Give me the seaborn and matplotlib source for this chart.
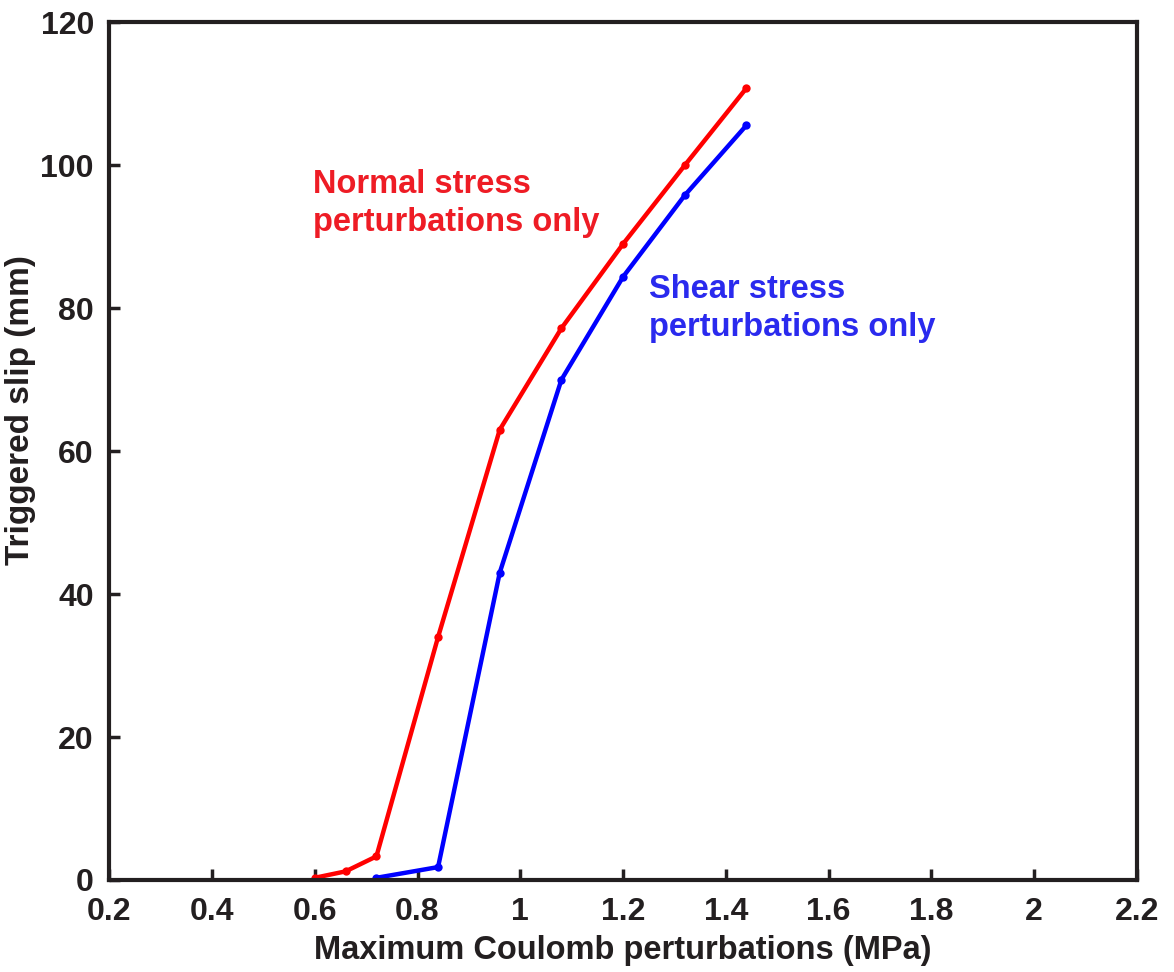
import numpy as np
import pandas as pd
import matplotlib
matplotlib.use("Agg")
import matplotlib.pyplot as plt
import seaborn as sns

normal_x = [0.60, 0.66, 0.72, 0.84, 0.96, 1.08, 1.20, 1.32, 1.44]
normal_y = [0.3, 1.2, 3.3, 34.0, 63.0, 77.2, 89.0, 100.0, 110.8]
shear_x = [0.72, 0.84, 0.96, 1.08, 1.20, 1.32, 1.44]
shear_y = [0.3, 1.8, 43.0, 70.0, 84.4, 95.8, 105.6]

x_ticks = [0.2, 0.4, 0.6, 0.8, 1.0, 1.2, 1.4, 1.6, 1.8, 2.0, 2.2]
x_tick_labels = ["0.2", "0.4", "0.6", "0.8", "1", "1.2", "1.4", "1.6", "1.8", "2", "2.2"]
y_ticks = [0, 20, 40, 60, 80, 100, 120]

df = pd.DataFrame({
    "x": normal_x + shear_x,
    "y": normal_y + shear_y,
    "series": ["normal"] * len(normal_x) + ["shear"] * len(shear_x),
})

sns.set_style("white")
plt.rcParams["font.family"] = ["Liberation Sans", "DejaVu Sans"]
plt.rcParams["font.weight"] = "bold"

fig = plt.figure(figsize=(11.74, 9.72), dpi=100)
ax = fig.add_axes([0.093, 0.0947, 0.8755, 0.8823])

sns.lineplot(data=df, x="x", y="y", hue="series",
             palette={"normal": "#ff0000", "shear": "#0000ff"},
             marker="o", markersize=6, markeredgewidth=0, linewidth=3.2,
             legend=False, ax=ax, estimator=None, sort=False)

ax.set_xlim(0.2, 2.2)
ax.set_ylim(0, 120)
ax.set_xticks(x_ticks)
ax.set_xticklabels(x_tick_labels)
ax.set_yticks(y_ticks)
ax.tick_params(axis="both", direction="in", length=8, width=2.5, labelsize=23,
               colors="#231f20", bottom=True, left=True, top=False, right=False)
ax.tick_params(axis="x", pad=12)
ax.tick_params(axis="y", pad=11)
for lab in ax.get_xticklabels() + ax.get_yticklabels():
    lab.set_fontweight("bold")
for s in ax.spines.values():
    s.set_linewidth(3)
    s.set_color("#231f20")

ax.set_xlabel("Maximum Coulomb perturbations (MPa)", fontsize=23.5, fontweight="bold",
              color="#231f20", labelpad=6)
ax.set_ylabel("Triggered slip (mm)", fontsize=24, fontweight="bold",
              color="#231f20")
ax.yaxis.set_label_coords(-0.071, 0.548)

ax.text(0.597, 99.5, "Normal stress\nperturbations only", color="#ee1c25",
        fontsize=23.5, fontweight="bold", va="top", ha="left", linespacing=1.3)
ax.text(1.25, 84.8, "Shear stress\nperturbations only", color="#2a2aee",
        fontsize=23.5, fontweight="bold", va="top", ha="left", linespacing=1.3)

fig.savefig("out.png", dpi=100)
